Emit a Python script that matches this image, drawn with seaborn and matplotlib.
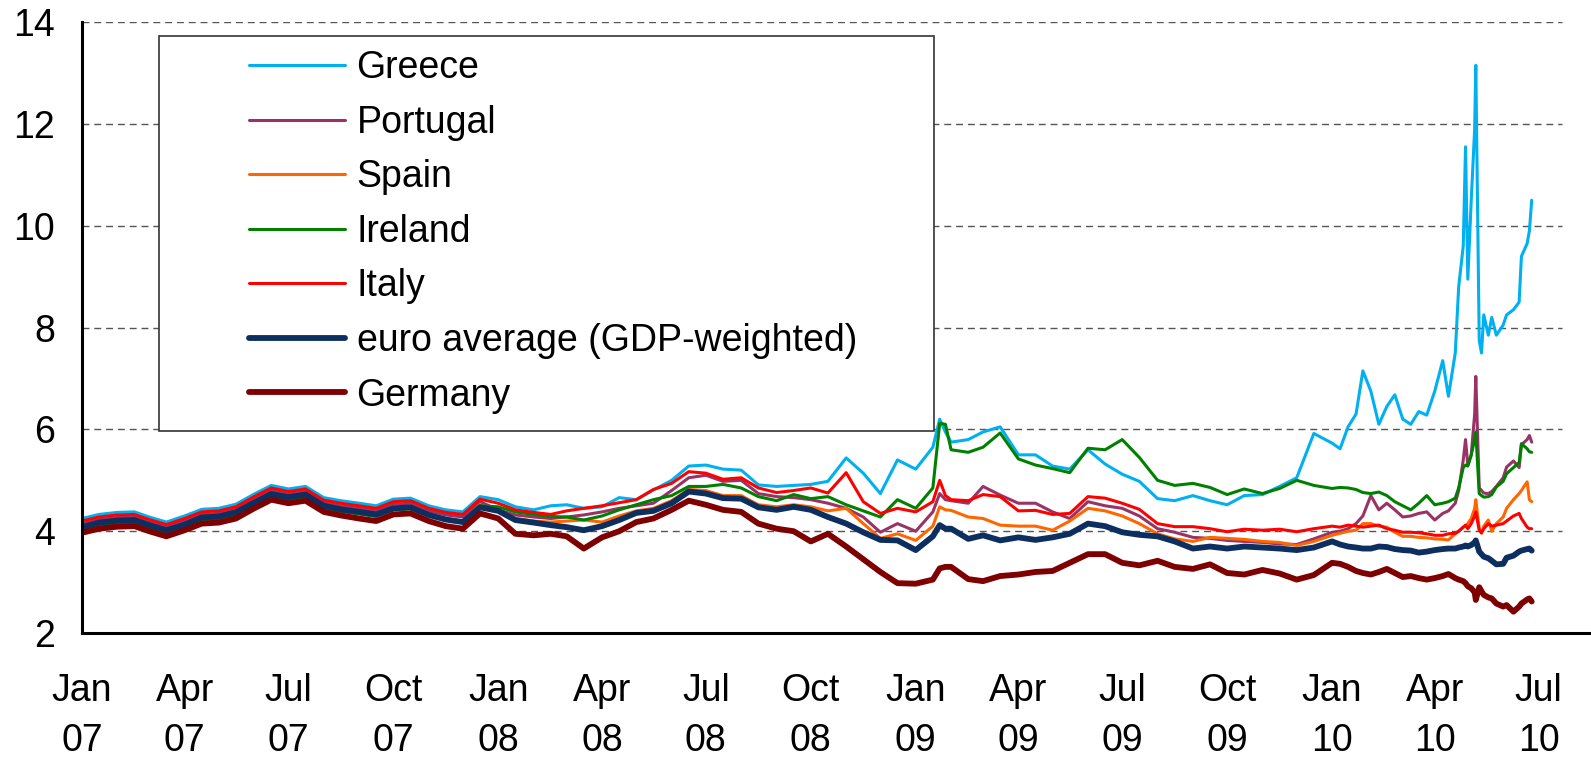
import pandas as pd
import matplotlib
matplotlib.use("Agg")
import matplotlib.pyplot as plt
import matplotlib.dates as mdates
from matplotlib.lines import Line2D
from matplotlib.patches import Rectangle
import seaborn as sns

# sample dates: twice a month, denser around the 2009 and 2010 jumps
dates_2007 = [f"2007-{m:02d}-{d:02d}" for m in range(1, 13) for d in (1, 16)]
dates_2008 = [f"2008-{m:02d}-{d:02d}" for m in range(1, 13) for d in (1, 16)]
dates_2009 = ["2009-01-01", "2009-01-16", "2009-01-22", "2009-01-27", "2009-02-01", "2009-02-16",
              "2009-03-01", "2009-03-16", "2009-04-01", "2009-04-16", "2009-05-01", "2009-05-16",
              "2009-06-01", "2009-06-16", "2009-07-01", "2009-07-16", "2009-08-01", "2009-08-16",
              "2009-09-01", "2009-09-16", "2009-10-01", "2009-10-16", "2009-11-01", "2009-11-16",
              "2009-12-01", "2009-12-16"]
dates_2010 = ["2010-01-01", "2010-01-08", "2010-01-15", "2010-01-22", "2010-01-28", "2010-02-04",
              "2010-02-11", "2010-02-18", "2010-02-25", "2010-03-04", "2010-03-11", "2010-03-18",
              "2010-03-25", "2010-04-01", "2010-04-08", "2010-04-13", "2010-04-19", "2010-04-22",
              "2010-04-26", "2010-04-28", "2010-04-30", "2010-05-03", "2010-05-06", "2010-05-07",
              "2010-05-10", "2010-05-12", "2010-05-14", "2010-05-18", "2010-05-21", "2010-05-25",
              "2010-05-31", "2010-06-03", "2010-06-09", "2010-06-14", "2010-06-16", "2010-06-21",
              "2010-06-23", "2010-06-25"]

greece = [4.25, 4.33, 4.37, 4.38, 4.28, 4.18, 4.30, 4.43, 4.45, 4.53, 4.73, 4.90,
          4.83, 4.88, 4.66, 4.60, 4.55, 4.50, 4.63, 4.65, 4.50, 4.42, 4.38, 4.68,
          4.62, 4.48, 4.42, 4.50, 4.52, 4.45, 4.48, 4.66, 4.62, 4.81, 5.00, 5.28,
          5.30, 5.22, 5.20, 4.91, 4.88, 4.90, 4.92, 4.98, 5.44, 5.14, 4.74, 5.40,
          5.22, 5.65, 6.20, 5.95, 5.75, 5.80, 5.95, 6.05, 5.50, 5.50, 5.28, 5.22, 5.60,
          5.32, 5.12, 4.98, 4.64, 4.60, 4.70, 4.60, 4.52, 4.70, 4.72, 4.88, 5.05, 5.92,
          5.73, 5.62, 6.05, 6.30, 7.15, 6.75, 6.10, 6.45, 6.68, 6.20, 6.10, 6.35, 6.28,
          6.75, 7.35, 6.65, 7.50, 8.80, 9.60, 11.55, 8.95, 10.50, 11.90, 13.15, 7.75,
          7.50, 8.25, 7.85, 8.20, 7.85, 8.05, 8.25, 8.35, 8.50, 9.40, 9.65, 9.90, 10.50]
portugal = [4.15, 4.23, 4.27, 4.28, 4.18, 4.08, 4.20, 4.33, 4.35, 4.43, 4.63, 4.80,
            4.73, 4.78, 4.56, 4.50, 4.45, 4.40, 4.53, 4.55, 4.40, 4.32, 4.28, 4.58,
            4.42, 4.32, 4.28, 4.25, 4.28, 4.32, 4.38, 4.45, 4.50, 4.55, 4.80, 5.05,
            5.10, 4.98, 5.00, 4.74, 4.68, 4.66, 4.62, 4.55, 4.45, 4.28, 3.98, 4.15,
            4.00, 4.38, 4.74, 4.62, 4.60, 4.55, 4.88, 4.71, 4.55, 4.55, 4.38, 4.25, 4.58,
            4.50, 4.45, 4.30, 4.05, 3.98, 3.88, 3.86, 3.82, 3.80, 3.78, 3.75, 3.74, 3.85,
            3.98, 4.00, 4.05, 4.15, 4.30, 4.70, 4.42, 4.55, 4.42, 4.28, 4.30, 4.35, 4.38,
            4.22, 4.35, 4.40, 4.55, 4.80, 5.40, 5.80, 5.30, 5.50, 6.30, 7.04, 4.85,
            4.80, 4.75, 4.74, 4.78, 4.88, 5.05, 5.26, 5.38, 5.25, 5.70, 5.80, 5.88, 5.75]
spain = [4.05, 4.13, 4.17, 4.18, 4.08, 3.98, 4.10, 4.23, 4.25, 4.33, 4.53, 4.70,
         4.63, 4.68, 4.46, 4.40, 4.35, 4.30, 4.43, 4.45, 4.32, 4.24, 4.20, 4.52,
         4.40, 4.25, 4.20, 4.18, 4.20, 4.22, 4.18, 4.30, 4.40, 4.45, 4.60, 4.82,
         4.80, 4.70, 4.70, 4.52, 4.48, 4.52, 4.48, 4.40, 4.45, 4.15, 3.86, 3.95,
         3.82, 4.10, 4.48, 4.42, 4.41, 4.28, 4.25, 4.12, 4.10, 4.10, 4.02, 4.20, 4.45,
         4.40, 4.30, 4.15, 3.95, 3.85, 3.80, 3.88, 3.86, 3.84, 3.80, 3.78, 3.72, 3.80,
         3.92, 3.96, 4.00, 4.02, 4.15, 4.15, 4.10, 4.08, 3.98, 3.90, 3.90, 3.88, 3.87,
         3.85, 3.84, 3.83, 3.95, 4.00, 4.08, 4.10, 4.15, 4.25, 4.45, 4.62, 4.05,
         3.96, 4.10, 4.22, 4.00, 4.15, 4.28, 4.45, 4.62, 4.74, 4.80, 4.97, 4.62, 4.58]
ireland = [4.04, 4.12, 4.16, 4.17, 4.07, 3.97, 4.09, 4.22, 4.24, 4.32, 4.52, 4.69,
           4.62, 4.67, 4.45, 4.39, 4.34, 4.29, 4.42, 4.44, 4.31, 4.23, 4.19, 4.50,
           4.48, 4.38, 4.33, 4.29, 4.28, 4.22, 4.30, 4.42, 4.52, 4.62, 4.70, 4.88,
           4.88, 4.92, 4.85, 4.68, 4.60, 4.72, 4.64, 4.68, 4.52, 4.40, 4.28, 4.62,
           4.45, 4.85, 6.12, 6.10, 5.60, 5.55, 5.65, 5.93, 5.42, 5.30, 5.23, 5.15, 5.63,
           5.60, 5.80, 5.45, 5.00, 4.90, 4.94, 4.86, 4.72, 4.83, 4.74, 4.84, 5.00, 4.90,
           4.84, 4.86, 4.85, 4.82, 4.76, 4.74, 4.77, 4.70, 4.58, 4.50, 4.42, 4.55, 4.70,
           4.52, 4.55, 4.58, 4.65, 4.85, 5.25, 5.30, 5.28, 5.50, 5.80, 5.95, 4.74,
           4.70, 4.67, 4.68, 4.72, 4.87, 4.98, 5.13, 5.25, 5.35, 5.72, 5.62, 5.56, 5.55]
italy = [4.20, 4.28, 4.32, 4.33, 4.23, 4.13, 4.25, 4.38, 4.40, 4.48, 4.68, 4.85,
         4.78, 4.83, 4.61, 4.55, 4.50, 4.45, 4.58, 4.60, 4.45, 4.37, 4.33, 4.63,
         4.55, 4.42, 4.37, 4.33, 4.40, 4.45, 4.50, 4.56, 4.62, 4.82, 4.94, 5.17,
         5.14, 5.02, 5.05, 4.85, 4.76, 4.80, 4.85, 4.75, 5.15, 4.58, 4.35, 4.45,
         4.38, 4.58, 5.00, 4.70, 4.62, 4.60, 4.72, 4.68, 4.40, 4.41, 4.33, 4.35, 4.68,
         4.65, 4.55, 4.43, 4.15, 4.09, 4.09, 4.05, 3.99, 4.04, 4.02, 4.04, 3.99, 4.05,
         4.10, 4.08, 4.12, 4.10, 4.08, 4.10, 4.12, 4.05, 4.02, 3.98, 3.98, 3.97, 3.95,
         3.92, 3.92, 3.95, 3.96, 4.00, 4.08, 4.12, 4.05, 4.15, 4.30, 4.38, 4.02,
         3.97, 4.05, 4.15, 4.10, 4.12, 4.15, 4.20, 4.30, 4.35, 4.25, 4.08, 4.05, 4.05]
euro_avg = [4.08, 4.17, 4.21, 4.22, 4.12, 4.02, 4.13, 4.27, 4.29, 4.37, 4.56, 4.73,
            4.67, 4.72, 4.50, 4.43, 4.38, 4.33, 4.45, 4.47, 4.32, 4.23, 4.18, 4.47,
            4.40, 4.22, 4.17, 4.12, 4.08, 4.02, 4.10, 4.22, 4.36, 4.40, 4.55, 4.78,
            4.74, 4.65, 4.64, 4.47, 4.42, 4.48, 4.42, 4.28, 4.15, 3.98, 3.83, 3.82,
            3.63, 3.90, 4.12, 4.05, 4.05, 3.85, 3.92, 3.82, 3.88, 3.83, 3.88, 3.95, 4.15,
            4.10, 3.98, 3.93, 3.90, 3.80, 3.66, 3.70, 3.66, 3.70, 3.68, 3.66, 3.63, 3.68,
            3.80, 3.74, 3.70, 3.68, 3.66, 3.66, 3.70, 3.69, 3.65, 3.63, 3.62, 3.58, 3.60,
            3.63, 3.65, 3.66, 3.66, 3.68, 3.70, 3.72, 3.70, 3.73, 3.78, 3.82, 3.60,
            3.55, 3.50, 3.47, 3.42, 3.35, 3.36, 3.48, 3.52, 3.60, 3.62, 3.65, 3.66, 3.62]
germany = [3.97, 4.05, 4.09, 4.10, 4.00, 3.90, 4.02, 4.15, 4.17, 4.25, 4.45, 4.62,
           4.55, 4.60, 4.38, 4.31, 4.25, 4.20, 4.33, 4.35, 4.20, 4.10, 4.05, 4.35,
           4.25, 3.95, 3.92, 3.95, 3.90, 3.66, 3.88, 4.00, 4.18, 4.25, 4.42, 4.60,
           4.52, 4.42, 4.38, 4.15, 4.05, 4.00, 3.80, 3.95, 3.70, 3.45, 3.20, 2.98,
           2.97, 3.05, 3.27, 3.30, 3.30, 3.06, 3.02, 3.12, 3.15, 3.20, 3.22, 3.38, 3.55,
           3.55, 3.38, 3.33, 3.42, 3.30, 3.26, 3.35, 3.18, 3.15, 3.24, 3.17, 3.05, 3.14,
           3.38, 3.36, 3.30, 3.22, 3.18, 3.15, 3.20, 3.26, 3.18, 3.10, 3.12, 3.08, 3.05,
           3.08, 3.12, 3.16, 3.08, 3.05, 3.02, 2.98, 2.92, 2.88, 2.80, 2.65, 2.90,
           2.82, 2.75, 2.70, 2.68, 2.58, 2.52, 2.55, 2.42, 2.52, 2.58, 2.66, 2.68, 2.62]

labels = ["Greece", "Portugal", "Spain", "Ireland", "Italy",
          "euro average (GDP-weighted)", "Germany"]
values = [greece, portugal, spain, ireland, italy, euro_avg, germany]
colors = ["#00B0F0", "#993366", "#FF6600", "#008000", "#FF0000", "#0C2F60", "#7F0000"]
widths = [2.2, 2.2, 2.2, 2.2, 2.2, 4.2, 4.2]
y_grid = [4, 6, 8, 10, 12, 14]

dates = pd.to_datetime(dates_2007 + dates_2008 + dates_2009 + dates_2010)
df = pd.concat([pd.DataFrame({"date": dates, "yield": v, "country": name})
                for name, v in zip(labels, values)], ignore_index=True)

sns.set_style("white")
plt.rcParams["font.family"] = ["Liberation Sans", "DejaVu Sans"]
plt.rcParams["text.color"] = "black"
plt.rcParams["xtick.color"] = "black"
plt.rcParams["ytick.color"] = "black"

fig = plt.figure(figsize=(15.91, 7.6), dpi=100)
# axes run to the right edge so the x axis line does too
ax = fig.add_axes([0.0515, 0.167, 0.9485, 0.804])

for name, color, lw in zip(labels, colors, widths):
    sns.lineplot(data=df[df["country"] == name], x="date", y="yield", ax=ax,
                 color=color, linewidth=lw, estimator=None, sort=False,
                 legend=False, solid_joinstyle="round")

ax.set_xlim(pd.Timestamp("2007-01-01"), pd.Timestamp("2010-08-16"))
ax.set_ylim(2, 14)
ax.set_yticks(range(2, 15, 2))
ax.xaxis.set_major_locator(mdates.MonthLocator(bymonth=[1, 4, 7, 10]))
ax.xaxis.set_major_formatter(mdates.DateFormatter("%b\n%y"))
ax.set_xlabel("")
ax.set_ylabel("")

for s in ["top", "right"]:
    ax.spines[s].set_visible(False)
for s in ["left", "bottom"]:
    ax.spines[s].set_linewidth(2.2)
    ax.spines[s].set_color("black")

ax.tick_params(axis="y", direction="out", length=6.5, width=1.8, labelsize=27,
               pad=13, colors="black")
ax.tick_params(axis="x", direction="out", length=8, width=1.8, labelsize=27,
               pad=21, colors="black")
for lab in ax.get_xticklabels():
    lab.set_linespacing(1.5)

# dashed gridlines stop short of the right edge
ax.grid(False)
for yv in y_grid:
    ax.axhline(yv, xmin=0, xmax=0.981, linestyle=(0, (5, 3.5)), color="#555555",
               linewidth=1.0, zorder=0.5)

# legend box
box = Rectangle((0.0999, 0.4329), 0.4871, 0.5197, transform=fig.transFigure,
                facecolor="white", edgecolor="#333333", linewidth=1.2, zorder=4, clip_on=False)
ax.add_artist(box)
handles = [Line2D([], [], color=c, linewidth=lw) for c, lw in zip(colors, widths)]
ax.legend(handles, labels, loc="upper left", bbox_to_anchor=(0.1565, 0.934),
          bbox_transform=fig.transFigure, frameon=False, fontsize=27,
          handlelength=2.55, handletextpad=0.32, labelspacing=0.495,
          borderpad=0, borderaxespad=0)

fig.savefig("out.png", dpi=100)
